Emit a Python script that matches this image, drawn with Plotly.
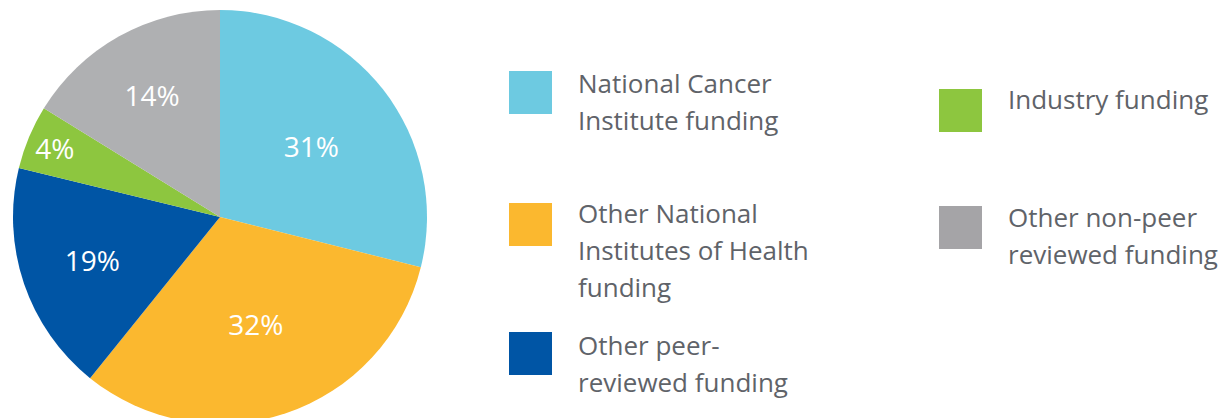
import plotly.graph_objects as go

# ---- data ----
categories = [
    "National Cancer Institute funding",
    "Other National Institutes of Health funding",
    "Other peer-reviewed funding",
    "Industry funding",
    "Other non-peer reviewed funding",
]
# printed percentages
pct_labels = ["31%", "32%", "19%", "4%", "14%"]
# slice sizes as drawn in the picture (measured angles, in %)
slice_sizes = [28.9, 31.9, 18.0, 5.0, 16.2]
colors = ["#6DCAE1", "#FBB82F", "#0055A5", "#8DC63F", "#AFB0B2"]
legend_colors = ["#6DCAE1", "#FBB82F", "#0055A5", "#8DC63F", "#A5A4A7"]
# legend text lines
legend_lines = [
    ["National Cancer", "Institute funding"],
    ["Other National", "Institutes of Health", "funding"],
    ["Other peer-", "reviewed funding"],
    ["Industry funding"],
    ["Other non-peer", "reviewed funding"],
]

W, H = 1228, 432
OFF = 8  # page body margin
FONT = "Open Sans"
TEXT_COLOR = "#5F6369"


def px(x):
    return (x - OFF) / W


def py(y):
    return 1 - (y - OFF) / H


# pie: centre (220, 217) on screen, radius 207
CX, CY, R = 220, 217, 207

fig = go.Figure()
fig.add_trace(go.Pie(
    labels=categories,
    values=slice_sizes,
    text=pct_labels,
    textinfo="text",
    textposition="inside",
    insidetextorientation="horizontal",
    textfont=dict(family=FONT, size=28, color="white"),
    marker=dict(colors=colors, line=dict(width=0)),
    sort=False,
    direction="clockwise",
    rotation=0,
    showlegend=False,
    hoverinfo="label+text",
    domain=dict(x=[px(CX - R), px(CX + R)], y=[py(CY + R), py(CY - R)]),
))

# ---- manual two-column legend (screen pixel positions) ----
# swatch top-left (x, y), text left x, first-line baseline
legend_pos = [
    (509, 71, 578, 94.3),
    (509, 203, 578, 224.3),
    (509, 332, 578, 355.7),
    (939, 89, 1008, 110),
    (939, 206, 1008, 227.7),
]
SW = 43
LINE = 37
FS = 26
shapes = []
annotations = []
for i, (sx, sy, tx, base) in enumerate(legend_pos):
    shapes.append(dict(type="rect", xref="paper", yref="paper",
                       x0=px(sx), x1=px(sx + SW), y0=py(sy + SW), y1=py(sy),
                       fillcolor=legend_colors[i], line=dict(width=0)))
    for j, line in enumerate(legend_lines[i]):
        b = base + j * LINE
        annotations.append(dict(
            xref="paper", yref="paper", x=px(tx - 2), y=py(b - 11),
            xanchor="left", yanchor="middle", text=line, showarrow=False,
            font=dict(family=FONT, size=FS, color=TEXT_COLOR),
        ))

fig.update_layout(
    width=W, height=H,
    margin=dict(l=0, r=0, t=0, b=0),
    paper_bgcolor="white", plot_bgcolor="white",
    shapes=shapes, annotations=annotations,
    font=dict(family=FONT),
)

fig.write_html("out.html")
